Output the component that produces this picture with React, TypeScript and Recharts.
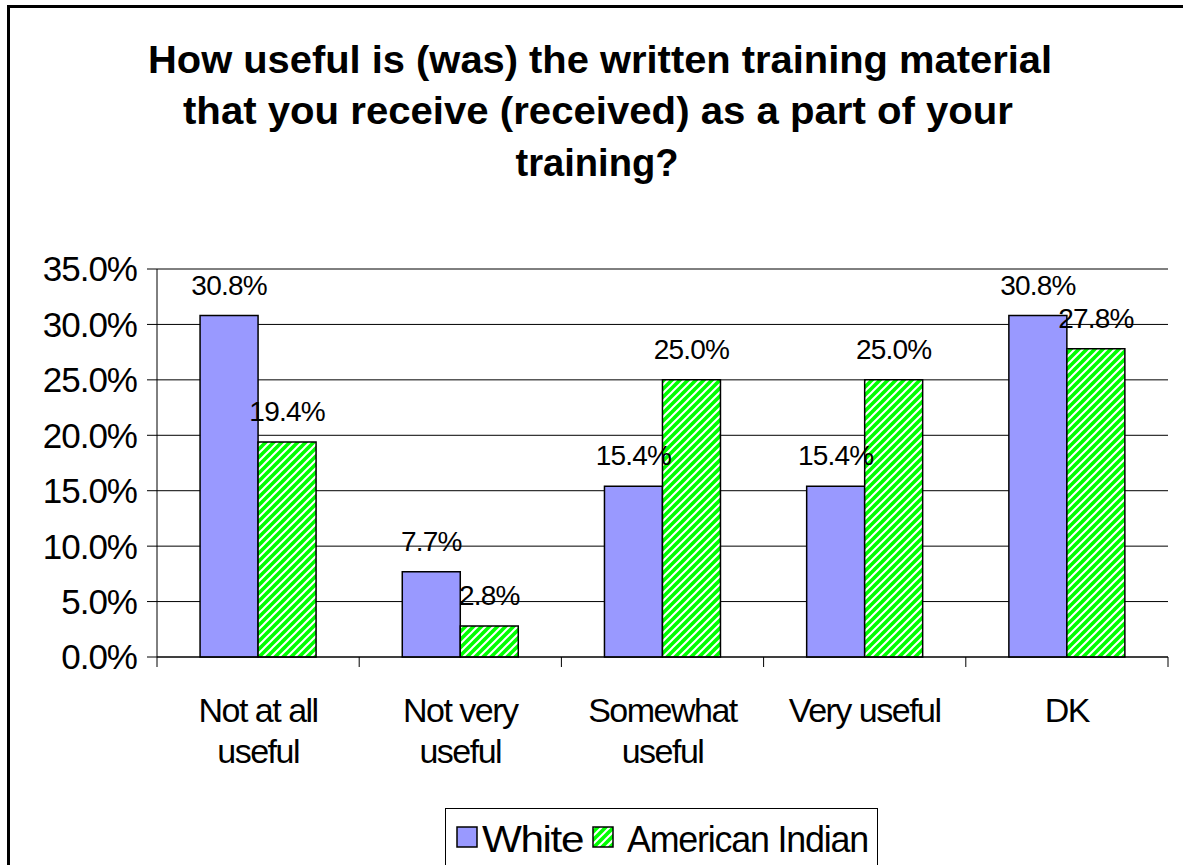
import React from "react";
import { BarChart, Bar, XAxis, YAxis, CartesianGrid, LabelList } from "recharts";

const categories = ["Not at all useful", "Not very useful", "Somewhat useful", "Very useful", "DK"];
const tickLabelLines = [["Not at all", "useful"], ["Not very", "useful"], ["Somewhat", "useful"], ["Very useful"], ["DK"]];
const whiteValues = [30.8, 7.7, 15.4, 15.4, 30.8];
const americanIndianValues = [19.4, 2.8, 25.0, 25.0, 27.8];
const yTicks = [0, 5, 10, 15, 20, 25, 30, 35];
const seriesNames = ["White", "American Indian"];
const titleLines = [
  "How useful is (was) the written training material",
  "that you receive (received) as a part of your",
  "training?",
];

const data = categories.map((c, i) => ({
  category: c,
  white: whiteValues[i],
  americanIndian: americanIndianValues[i],
}));

const FONT = "'Liberation Sans', Arial, Helvetica, sans-serif";
const W = 1183;
const H = 865;
const MARGIN = { top: 269, right: 15, bottom: 0, left: 0 };
const Y_AXIS_W = 157;
const X_AXIS_H = 208;
const BAND = (W - MARGIN.left - Y_AXIS_W - MARGIN.right) / categories.length;

const WHITE_FILL = "#9999ff";
const GREEN = "#00ff00";

function StripeDefs({ id }: { id: string }) {
  return (
    <defs>
      <pattern id={id} patternUnits="userSpaceOnUse" width={8} height={8}>
        <rect x={0} y={0} width={8} height={8} fill={GREEN} />
        <path d="M-2,2 L2,-2 M0,8 L8,0 M6,10 L10,6" stroke="#ffffff" strokeWidth={2} />
      </pattern>
    </defs>
  );
}

function CategoryTick(props: any) {
  const { x, y, payload, index } = props;
  const i = payload && typeof payload.index === "number" ? payload.index : index;
  const lines = tickLabelLines[i] || [String(payload.value)];
  const isLast = i === categories.length - 1;
  return (
    <g>
      <line x1={x - BAND / 2} x2={x - BAND / 2} y1={y - 10} y2={y} stroke="#000" strokeWidth={1} />
      {isLast && <line x1={x + BAND / 2} x2={x + BAND / 2} y1={y - 10} y2={y} stroke="#000" strokeWidth={1} />}
      <text x={x} y={y} textAnchor="middle" fontSize={34} fontFamily={FONT} fill="#000" letterSpacing={-1.5}>
        {lines.map((l, k) => (
          <tspan key={k} x={x} dy={k === 0 ? 55 : 41}>
            {l}
          </tspan>
        ))}
      </text>
    </g>
  );
}

const pct = (v: any) => Number(v).toFixed(1) + "%";

export default function App() {
  return (
    <div
      style={{
        position: "absolute",
        left: 0,
        top: 0,
        width: W,
        height: H,
        overflow: "hidden",
        background: "#fff",
        fontFamily: FONT,
      }}
    >
      <div style={{ position: "absolute", left: 7, top: 5, width: W, height: 3, background: "#000" }} />
      <div style={{ position: "absolute", left: 7, top: 5, width: 3, height: H, background: "#000" }} />

      <svg style={{ position: "absolute", left: 0, top: 0 }} width={W} height={200}>
        {titleLines.map((t, i) => (
          <text
            key={i}
            x={[600, 598, 597][i]}
            y={[73, 124, 176][i]}
            textAnchor="middle"
            fontFamily={FONT}
            fontWeight="bold"
            fontSize={39}
            fill="#000"
            textLength={[904, 830, 163][i]}
            lengthAdjust="spacingAndGlyphs"
          >
            {t}
          </text>
        ))}
      </svg>

      <div style={{ position: "absolute", left: 0, top: 0 }}>
        <BarChart width={W} height={H} data={data} margin={MARGIN} barCategoryGap="21.3%" barGap={0}>
          <StripeDefs id="stripes" />
          <CartesianGrid vertical={false} stroke="#000" strokeWidth={1} />
          <XAxis
            dataKey="category"
            height={X_AXIS_H}
            interval={0}
            tickSize={10}
            tickMargin={0}
            tickLine={false}
            axisLine={{ stroke: "#000", strokeWidth: 1 }}
            tick={<CategoryTick />}
          />
          <XAxis xAxisId="top" dataKey="category" orientation="top" height={0} tick={false} tickLine={false} axisLine={{ stroke: "#808080" }} />
          <YAxis
            width={Y_AXIS_W}
            domain={[0, 35]}
            ticks={yTicks}
            interval={0}
            tickSize={10}
            tickMargin={10}
            tickLine={{ stroke: "#000" }}
            axisLine={{ stroke: "#000" }}
            tickFormatter={pct}
            tick={{ fontSize: 35, fill: "#000", fontFamily: FONT, letterSpacing: -1 }}
          />
          <YAxis yAxisId="right" orientation="right" width={0} domain={[0, 35]} tick={false} tickLine={false} axisLine={{ stroke: "#808080" }} />
          <Bar dataKey="white" name={seriesNames[0]} fill={WHITE_FILL} stroke="#000" strokeWidth={1.5} isAnimationActive={false}>
            <LabelList dataKey="white" position="top" offset={21} formatter={pct} fill="#000" fontSize={28} fontFamily={FONT} style={{ letterSpacing: -0.8 }} />
          </Bar>
          <Bar dataKey="americanIndian" name={seriesNames[1]} fill="url(#stripes)" stroke="#000" strokeWidth={1.5} isAnimationActive={false}>
            <LabelList dataKey="americanIndian" position="top" offset={21} formatter={pct} fill="#000" fontSize={28} fontFamily={FONT} style={{ letterSpacing: -0.8 }} />
          </Bar>
        </BarChart>
      </div>

      <div
        style={{
          position: "absolute",
          left: 445,
          top: 808,
          width: 433,
          height: 70,
          border: "1px solid #000",
          background: "#fff",
          boxSizing: "border-box",
        }}
      >
        <svg width={433} height={60} style={{ position: "absolute", left: -1, top: -1 }}>
          <StripeDefs id="stripesLegend" />
          <rect x={12} y={19} width={20} height={20} fill={WHITE_FILL} stroke="#000" strokeWidth={1.5} />
          <text x={37} y={44} fontFamily={FONT} fontSize={36} fill="#000" letterSpacing={-1.2} textLength={101} lengthAdjust="spacingAndGlyphs">
            {seriesNames[0]}
          </text>
          <rect x={148} y={19} width={20} height={20} fill="url(#stripesLegend)" stroke="#000" strokeWidth={1.5} />
          <text x={182} y={44} fontFamily={FONT} fontSize={36} fill="#000" letterSpacing={-1.2} textLength={241} lengthAdjust="spacingAndGlyphs">
            {seriesNames[1]}
          </text>
        </svg>
      </div>
    </div>
  );
}
